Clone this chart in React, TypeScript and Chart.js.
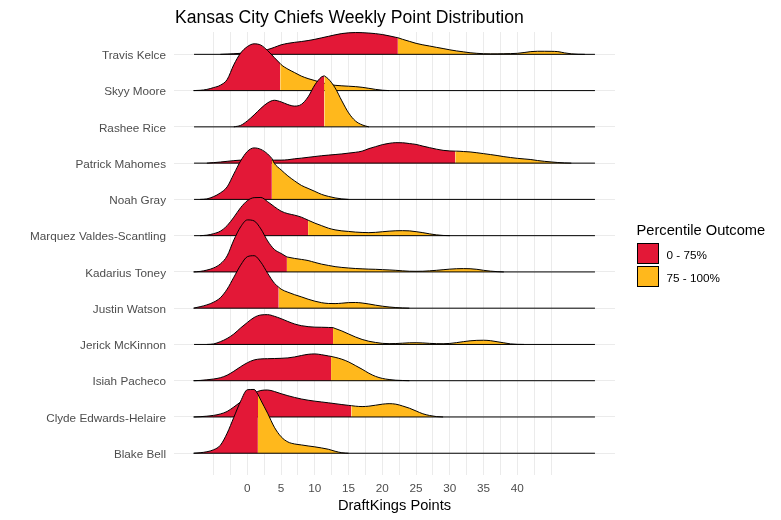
import React, { useEffect, useRef } from 'react';
import { Chart, registerables } from 'chart.js';

Chart.register(...registerables);

const FONT = '"Liberation Sans", Arial, sans-serif';
const RED = '#E31837';
const GOLD = '#FFB81C';

const TITLE = 'Kansas City Chiefs Weekly Point Distribution';
const X_TITLE = 'DraftKings Points';
const LEGEND_TITLE = 'Percentile Outcome';
const LEGEND_LABELS = ['0 - 75%', '75 - 100%'];

// top to bottom
const PLAYERS = [
  'Travis Kelce',
  'Skyy Moore',
  'Rashee Rice',
  'Patrick Mahomes',
  'Noah Gray',
  'Marquez Valdes-Scantling',
  'Kadarius Toney',
  'Justin Watson',
  'Jerick McKinnon',
  'Isiah Pacheco',
  'Clyde Edwards-Helaire',
  'Blake Bell',
];

const X_TICK_LABELS = [0, 5, 10, 15, 20, 25, 30, 35, 40];
const X_GRID_BREAKS = [-5, -2.5, 0, 2.5, 5, 7.5, 10, 12.5, 15, 17.5, 20, 22.5, 25, 27.5, 30, 32.5, 35, 37.5, 40, 42.5, 45];
const X_RANGE = [-7.9, 51.5];
const X_LIMITS = [-10.87, 54.47];
const Y_LIMITS = [-0.6, 11.616];

// Density heights (percent of ridge spacing), one value per DraftKings point starting at *_START
const KELCE_START = -4;
const KELCE = [0, 0.8, 1.7, 2.8, 4.1, 6.9, 9.6, 13.2, 19.3, 26.2, 30.3, 33.1, 35.3, 38, 41.4, 45.5, 49.6, 53.8, 57.3, 59.3, 60.1, 59.8, 58.7, 57.1, 54.6, 51, 46.9, 41.4, 35.8, 30.3, 26.2, 22.9, 19.3, 16, 12.4, 9.4, 6.9, 4.4, 2.8, 1.7, 1.4, 1.4, 1.7, 2, 2.8, 5, 7.5, 8.5, 8.5, 8.3, 7.5, 4, 1.4, 0.3, 0];
const MOORE_START = -8;
const MOORE = [0, 0.8, 3.3, 8.3, 14.9, 30.3, 71.7, 103.4, 121.3, 129, 125.4, 110.3, 91, 71.7, 59.3, 49.6, 40, 33.1, 27.6, 22.1, 17.4, 14.6, 13.2, 12.1, 11, 9.1, 6.3, 3.3, 1.1, 0];
const RICE_START = -2;
const RICE = [0, 4.1, 16.5, 33.1, 51, 66.2, 73.3, 68.9, 61.5, 57.3, 62, 82.7, 115.8, 137.9, 132.3, 107.5, 71.7, 38.6, 16.5, 5.5, 0];
const MAHOMES_START = -6;
const MAHOMES = [0, 1.4, 3, 5, 6.9, 8.3, 8.8, 8.8, 8.5, 8.3, 8.3, 8.3, 9.4, 11.9, 13.8, 16, 18.2, 20.4, 22.1, 23.7, 25.4, 27.6, 29.8, 33.1, 40, 45.5, 51, 54.6, 56.5, 56.2, 54, 51.6, 46.9, 42.7, 38.6, 35.3, 33.6, 33.1, 32, 30.9, 28.7, 26.2, 23.7, 21, 17.9, 15.4, 13.2, 11.6, 9.9, 7.2, 5, 3.3, 1.7, 0.6, 0];
const GRAY_START = -7;
const GRAY = [0, 1.4, 7.7, 17.9, 34.5, 70.3, 106.1, 132.3, 142, 137.9, 125.4, 99.3, 81.3, 64.8, 51, 38.6, 30.3, 22.1, 13.8, 8.3, 4.1, 1.4, 0];
const MVS_START = -7;
const MVS = [0, 1.4, 5.5, 12.4, 27.6, 51, 77.2, 96.5, 104.8, 105.3, 93.7, 80, 67.5, 60.7, 56.5, 51, 42.7, 34.5, 27.6, 20.7, 16, 13.2, 11.6, 9.9, 8.8, 8.3, 9.1, 10.8, 12.4, 13.5, 13.8, 13.2, 11, 8.3, 5, 2.2, 0.6, 0];
const TONEY_START = -8;
const TONEY = [0, 1.4, 5, 11, 22.1, 44.1, 88.2, 124.1, 143.4, 140.6, 118.6, 85.5, 62, 51, 40.8, 37.2, 34.5, 31.4, 26.2, 21.5, 17.9, 14.6, 12.4, 10.8, 9.4, 8.5, 7.7, 7.2, 6.3, 5.5, 4.4, 3, 1.9, 1.7, 1.9, 3, 4.4, 6.1, 7.7, 8.8, 9.1, 8.8, 7.2, 4.4, 2.2, 0.8, 0];
const WATSON_START = -8;
const WATSON = [0, 4.1, 9.1, 16.5, 28.9, 52.4, 85.5, 118.6, 142, 144.7, 126.8, 96.5, 68.9, 52.4, 44.1, 37.2, 31.2, 24.8, 19.3, 15.2, 13, 12.7, 13.8, 15.4, 15.7, 14.3, 11.6, 8.3, 5.5, 3.3, 1.7, 0.6, 0];
const MCKINNON_START = -6;
const MCKINNON = [0, 1.4, 7.7, 16.5, 28.9, 45.5, 60.7, 74.4, 81.3, 82.2, 77.7, 71.1, 63.4, 56.5, 51.8, 49.1, 47.7, 47.4, 46.9, 44.1, 37.2, 28.9, 20.7, 13.8, 8.8, 5.5, 3, 2.2, 2.5, 3.5, 4.5, 4.7, 4.2, 3, 2.2, 2, 2.8, 5, 7.7, 10, 11.3, 11.6, 10.5, 7.5, 4.5, 1.5, 0.3, 0];
const PACHECO_START = -8;
const PACHECO = [0, 0.8, 2.5, 4.7, 8.3, 15.2, 26.2, 38.6, 49.6, 57.3, 60.1, 60.7, 61.2, 61.8, 62.9, 65.6, 69.5, 72.8, 73.9, 71.7, 68.4, 64.5, 59.3, 51.8, 41.9, 31.7, 20.7, 11.9, 6.3, 3.3, 1.4, 0.6, 0];
const CEH_START = -8;
const CEH = [0, 0.8, 2.2, 4.4, 8.3, 15.2, 27.6, 41.4, 55.1, 66.2, 73.1, 74.4, 70.3, 64.2, 58.7, 53.8, 49.6, 46.3, 43.6, 41.4, 39.1, 36.7, 34.2, 32, 29.8, 28.7, 29.8, 32.5, 35.3, 36.7, 35.3, 30.3, 24.3, 16.5, 8.8, 4.1, 1.1, 0];
const BELL_START = -8;
const BELL = [0, 1.4, 4.1, 9.6, 22.1, 55.1, 99.3, 143.4, 175.1, 175.9, 146.1, 110.3, 71.7, 45.5, 31.2, 25.6, 22.9, 20.1, 17.6, 14.6, 11, 5.5, 1.4, 0];

// 75th percentile cut (x) and the density height there
const CUT_X = [22.3, 4.87, 11.4, 30.8, 3.63, 9.0, 5.86, 4.65, 12.7, 12.4, 15.4, 1.56];
const CUT_H = [45.8, 74.4, 140.6, 33.1, 113, 42.7, 41.4, 57.9, 46.3, 67, 31.2, 162.7];

const STARTS = [KELCE_START, MOORE_START, RICE_START, MAHOMES_START, GRAY_START, MVS_START, TONEY_START, WATSON_START, MCKINNON_START, PACHECO_START, CEH_START, BELL_START];
const DENSITIES = [KELCE, MOORE, RICE, MAHOMES, GRAY, MVS, TONEY, WATSON, MCKINNON, PACHECO, CEH, BELL];

function buildDatasets() {
  const n = PLAYERS.length;
  const out: any[] = [];
  PLAYERS.forEach((name, k) => {
    const i = n - 1 - k;
    const start = STARTS[k];
    const pts = DENSITIES[k].map((h, j) => ({ x: start + j, y: i + h / 100 }));
    const cut = { x: CUT_X[k], y: i + CUT_H[k] / 100 };
    const low = pts.filter((p) => p.x < cut.x).concat([cut]);
    const high = [cut].concat(pts.filter((p) => p.x > cut.x));
    const ord = 1000 - k * 10;
    const common = {
      borderColor: '#000',
      borderWidth: 1,
      fill: { value: i },
      cubicInterpolationMode: 'monotone',
      pointRadius: 0,
      pointHoverRadius: 0,
    };
    out.push({ ...common, label: name + ' 0-75', data: low, backgroundColor: RED, order: ord });
    out.push({ ...common, label: name + ' 75-100', data: high, backgroundColor: GOLD, order: ord - 1 });
    out.push({
      label: name + ' base',
      data: [{ x: X_RANGE[0], y: i }, { x: X_RANGE[1], y: i }],
      borderColor: '#000',
      borderWidth: 1,
      fill: false,
      pointRadius: 0,
      order: ord - 2,
    });
  });
  return out;
}

const textPlugin = {
  id: 'ridgeTexts',
  afterDraw(chart: any) {
    const { ctx, chartArea } = chart;
    ctx.save();
    ctx.fillStyle = '#000';
    ctx.textBaseline = 'alphabetic';
    ctx.textAlign = 'left';
    ctx.font = `17.6px ${FONT}`;
    ctx.fillText(TITLE, chartArea.left + 1, 22.7);

    ctx.font = `14.67px ${FONT}`;
    ctx.textAlign = 'center';
    ctx.fillText(X_TITLE, (chartArea.left + chartArea.right) / 2, 510);

    ctx.textAlign = 'left';
    ctx.fillText(LEGEND_TITLE, 636.5, 235);

    const keys = [RED, GOLD];
    const keyY = [243.5, 266.5];
    const labelY = [259, 282.3];
    keys.forEach((c, j) => {
      ctx.fillStyle = c;
      ctx.fillRect(637.5, keyY[j], 21, 20);
      ctx.strokeStyle = '#000';
      ctx.lineWidth = 1;
      ctx.strokeRect(637.5, keyY[j], 21, 20);
      ctx.fillStyle = '#000';
      ctx.font = `11.73px ${FONT}`;
      ctx.fillText(LEGEND_LABELS[j], 666.5, labelY[j]);
    });
    ctx.restore();
  },
};

export default function App() {
  const ref = useRef<HTMLCanvasElement>(null);
  useEffect(() => {
    Chart.defaults.font.family = FONT;
    const n = PLAYERS.length;
    const chart = new Chart(ref.current as HTMLCanvasElement, {
      type: 'line',
      data: { datasets: buildDatasets() },
      options: {
        animation: false,
        responsive: false,
        maintainAspectRatio: false,
        devicePixelRatio: 1,
        events: [],
        layout: { padding: { left: 0, top: 32, right: 166, bottom: 0 } },
        plugins: {
          legend: { display: false },
          tooltip: { enabled: false },
          title: { display: false },
        },
        elements: { point: { radius: 0 } },
        scales: {
          x: {
            type: 'linear',
            min: X_LIMITS[0],
            max: X_LIMITS[1],
            border: { display: false },
            grid: { color: '#EBEBEB', lineWidth: 1, drawTicks: false },
            afterBuildTicks: (s: any) => {
              s.ticks = X_GRID_BREAKS.map((v) => ({ value: v }));
            },
            afterFit: (s: any) => {
              s.height = 45;
            },
            ticks: {
              autoSkip: false,
              maxRotation: 0,
              padding: 7,
              color: '#4D4D4D',
              font: { size: 11.73, family: FONT },
              callback: (v: any) => (X_TICK_LABELS.includes(Number(v)) ? String(v) : ''),
            },
          },
          y: {
            type: 'linear',
            min: Y_LIMITS[0],
            max: Y_LIMITS[1],
            border: { display: false },
            grid: { color: '#EBEBEB', lineWidth: 1, drawTicks: false },
            afterBuildTicks: (s: any) => {
              s.ticks = PLAYERS.map((_, k) => ({ value: n - 1 - k }));
            },
            afterFit: (s: any) => {
              s.width = 174;
            },
            ticks: {
              autoSkip: false,
              padding: 8,
              labelOffset: 1.5,
              color: '#4D4D4D',
              font: { size: 11.73, family: FONT },
              callback: (v: any) => PLAYERS[n - 1 - Number(v)],
            },
          },
        },
      } as any,
      plugins: [textPlugin],
    });
    return () => chart.destroy();
  }, []);
  return (
    <div style={{ position: 'absolute', left: 0, top: 0, width: 781, height: 520, background: '#fff' }}>
      <canvas ref={ref} width={781} height={520} style={{ display: 'block', width: 781, height: 520 }} />
    </div>
  );
}
